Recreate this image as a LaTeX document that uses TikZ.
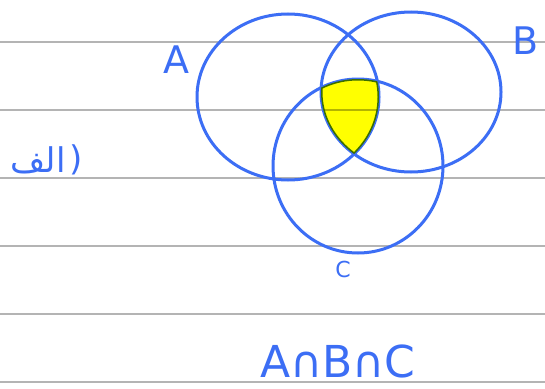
\documentclass[tikz,border=0pt]{standalone}
\usepackage{fontspec}
\setmainfont{DejaVu Sans}
\newfontfamily\arabicfont[Script=Arabic]{DejaVu Sans}
\TeXXeTstate=1
\definecolor{pen}{RGB}{60,110,245}
\definecolor{ruleline}{RGB}{180,180,180}
\definecolor{marker}{RGB}{255,255,0}
\begin{document}
\begin{tikzpicture}[x=1pt,y=-1pt,
  setline/.style={draw=pen, line width=3pt},
  hand/.style={text=pen, inner sep=0pt},
  paperline/.style={draw=ruleline, line width=1.3pt}]
\useasboundingbox (0,0) rectangle (545,388);
\fill[white] (0,0) rectangle (545,388);
\foreach \yy in {42,110,178,246,314,382}
  \draw[paperline] (0,\yy) -- (545,\yy);
% circles
\coordinate (cA) at (288,97);
\coordinate (cB) at (411,92);
\coordinate (cC) at (358,166);
\draw[setline] (cA) ellipse [x radius=91, y radius=83];
\draw[setline] (cB) ellipse [x radius=90, y radius=80];
\draw[setline] (cC) ellipse [x radius=85, y radius=87];
% shaded intersection
\begin{scope}[blend mode=multiply]
  \clip (cA) ellipse [x radius=91, y radius=83];
  \clip (cB) ellipse [x radius=90, y radius=80];
  \fill[marker] (cC) ellipse [x radius=85, y radius=87];
\end{scope}
% labels
\node[hand, font=\fontsize{38}{38}\selectfont] (la) at (176,60) {A};
\node[hand, font=\fontsize{38}{38}\selectfont] (lb) at (526,41) {B};
\node[hand, font=\fontsize{22}{22}\selectfont] (lc) at (343,269) {C};
\node[hand, font=\fontsize{34}{34}\selectfont] (lalef) at (38,160) {\arabicfont\beginR الف\endR};
\node[hand, font=\fontsize{34}{34}\selectfont, anchor=west] (lparen) at ([xshift=4pt]lalef.east) {)};
\node[hand, font=\fontsize{44}{44}\selectfont] (expr) at (338,361) {A∩B∩C};
\end{tikzpicture}
\end{document}
